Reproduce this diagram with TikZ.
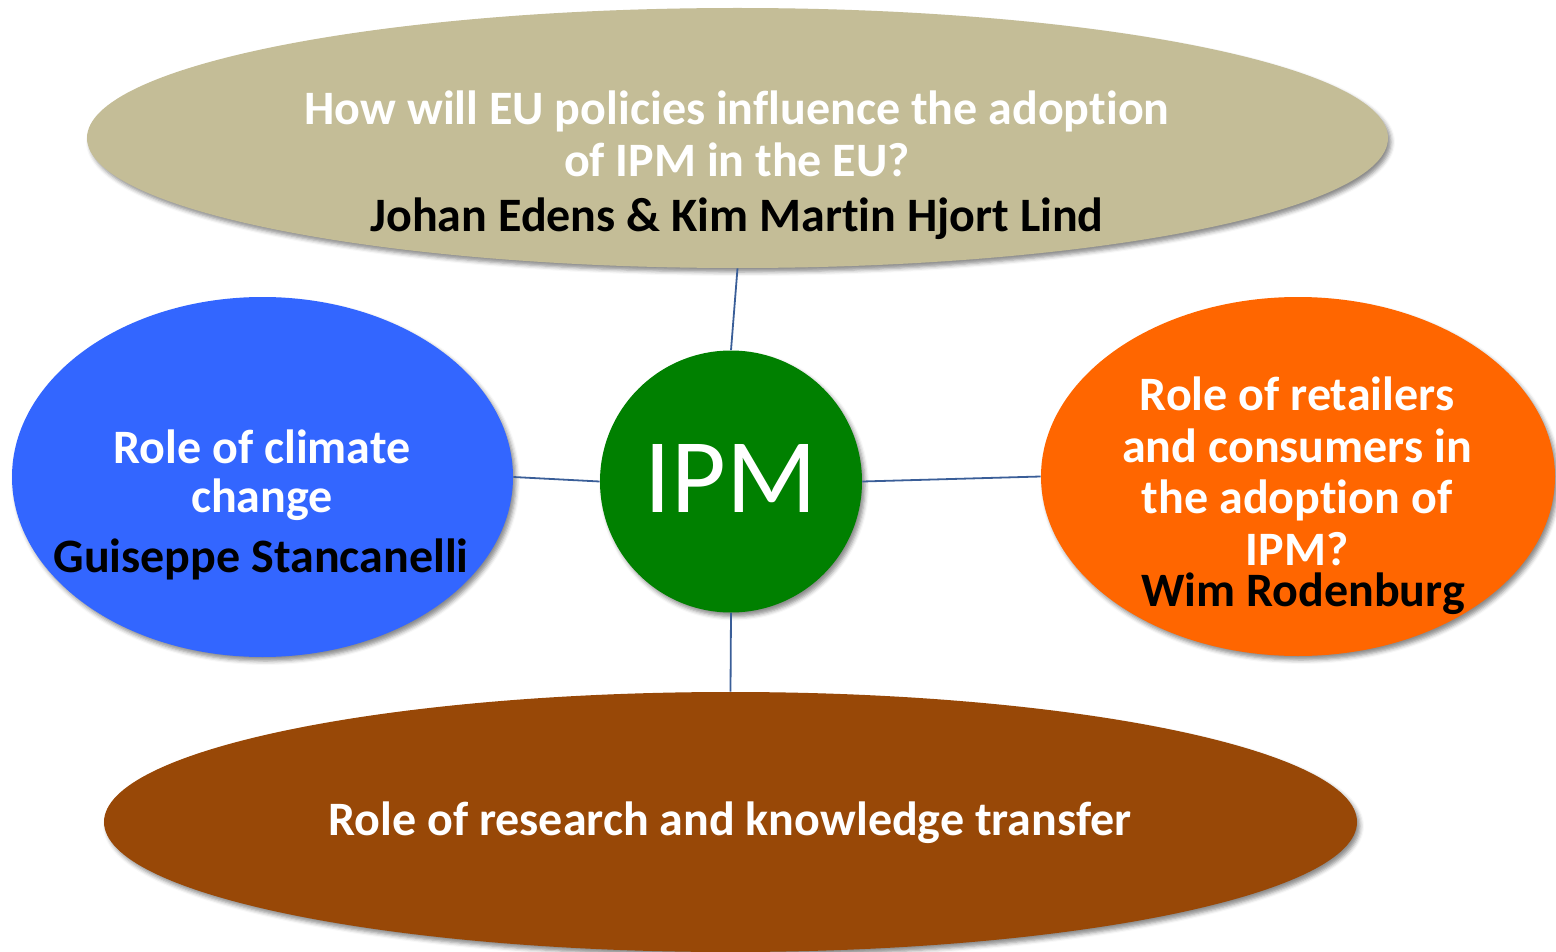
\documentclass[tikz,border=0pt]{standalone}
\usepackage{fontspec}
\setmainfont{Carlito}[RawFeature={-liga;-clig;-dlig}]
\usetikzlibrary{shapes.geometric,shadows.blur}

\definecolor{tanfill}{RGB}{196,189,151}
\definecolor{bluefill}{RGB}{51,102,255}
\definecolor{orangefill}{RGB}{255,102,0}
\definecolor{greenfill}{RGB}{0,128,0}
\definecolor{brownfill}{RGB}{152,72,7}
\definecolor{linkblue}{RGB}{58,94,152}

\tikzset{every picture/.style={line width=0.75pt}}
\tikzset{
  blob/.style={ellipse, inner sep=0pt, draw=none,
    blur shadow={shadow xshift=3pt, shadow yshift=-4pt, shadow blur radius=4pt, shadow opacity=45}},
  link/.style={draw=linkblue, line width=1.8pt},
  wtxt/.style={anchor=base, inner sep=0pt, text=white, font=\bfseries\fontsize{48}{56}\selectfont},
  ktxt/.style={anchor=base, inner sep=0pt, text=black, font=\bfseries\fontsize{48}{56}\selectfont},
}

\begin{document}
\begin{tikzpicture}[x=1pt,y=1pt,yscale=-1]
	\useasboundingbox (0,0) rectangle (1556,952);
	
	% Ellipses
	\node[blob, fill=tanfill, minimum width=1301pt, minimum height=260pt] (policy) at (737.5,138) {};
	\node[blob, fill=bluefill, minimum width=501pt, minimum height=360pt] (climate) at (262.5,477) {};
	\node[blob, fill=orangefill, minimum width=514pt, minimum height=359pt] (retail) at (1298,476.5) {};
	\node[blob, fill=brownfill, minimum width=1253pt, minimum height=260pt] (research) at (730.5,822) {};
	\node[blob, fill=greenfill, minimum width=262pt, minimum height=262pt] (ipm) at (731,481.5) {};
	
	% Connectors
	\draw[link] (policy.south) -- (ipm.north);
	\draw[link] (climate.east) -- (ipm.west);
	\draw[link] (ipm.east) -- (retail.west);
	\draw[link] (ipm.south) -- (research.north);
	
	% Text Node
	\node[anchor=base, inner sep=0pt, text=white, font=\fontsize{106}{120}\selectfont] (ipmtxt) at (731,512) {IPM};
	% Text Node
	\node[wtxt] (policy1) at (737,125) {How will EU policies influence the adoption};
	\node[wtxt] (policy2) at (737,177) {of IPM in the EU?};
	\node[ktxt] (policy3) at (737,232) {Johan Edens \& Kim Martin Hjort Lind};
	% Text Node
	\node[wtxt] (climate1) at (262,463) {Role of climate};
	\node[wtxt] (climate2) at (262,512) {change};
	\node[ktxt] (climate3) at (261,572) {Guiseppe Stancanelli};
	% Text Node
	\node[wtxt] (retail1) at (1297,410) {Role of retailers};
	\node[wtxt] (retail2) at (1297,462) {and consumers in};
	\node[wtxt] (retail3) at (1297,513) {the adoption of};
	\node[wtxt] (retail4) at (1297,565) {IPM?};
	\node[ktxt] (retail5) at (1303,606) {Wim Rodenburg};
	% Text Node
	\node[wtxt] (research1) at (730,835) {Role of research and knowledge transfer};
	
\end{tikzpicture}
\end{document}
